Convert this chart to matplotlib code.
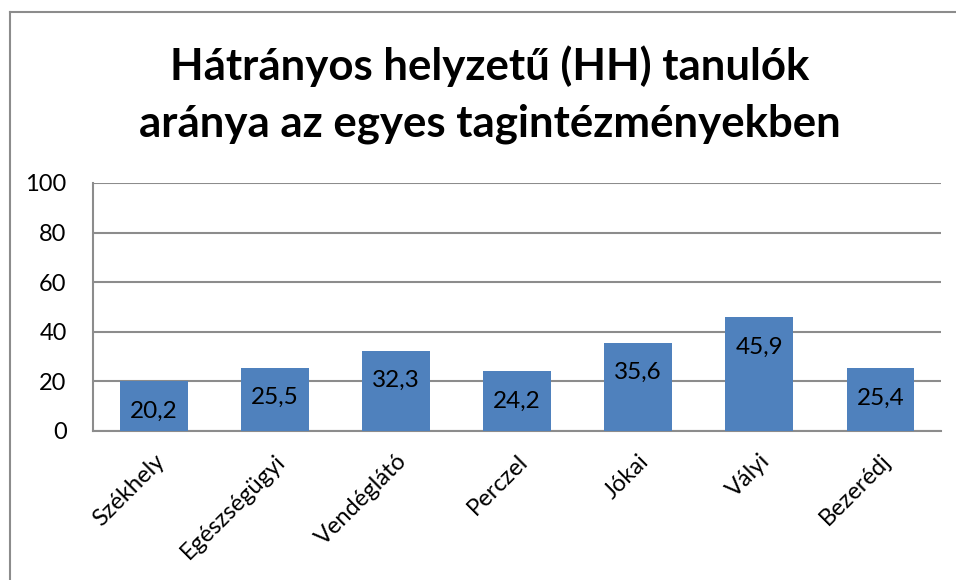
import matplotlib.pyplot as plt
from matplotlib.lines import Line2D

plt.rcParams['font.family'] = ['Lato', 'DejaVu Sans']

# -------------------------------
# Data
# -------------------------------
categories = ["Székhely", "Egészségügyi", "Vendéglátó", "Perczel", "Jókai", "Vályi", "Bezerédj"]
values = [20.2, 25.5, 32.3, 24.2, 35.6, 45.9, 25.4]
yticks = [0, 20, 40, 60, 80, 100]
title = "Hátrányos helyzetű (HH) tanulók\naránya az egyes tagintézményekben"

# -------------------------------
# Figure
# -------------------------------
fig = plt.figure(figsize=(9.56, 5.80), dpi=100)
ax = fig.add_axes([0.0973, 0.2569, 0.887, 0.4276])

x = range(len(categories))
bars = ax.bar(x, values, width=0.56, color="#4F81BD", zorder=3)

for b, v in zip(bars, values):
    ax.annotate(f"{v:.1f}".replace(".", ","),
                xy=(b.get_x() + b.get_width() / 2, b.get_height()),
                xytext=(0, -14), textcoords="offset points",
                ha="center", va="top", fontsize=17.5, color="black", zorder=4)

ax.set_ylim(0, 100)
ax.set_xlim(-0.5, len(categories) - 0.5)
ax.set_yticks(yticks)
ax.set_yticklabels([str(t) for t in yticks], fontsize=17)
ax.set_xticks(list(x))
ax.set_xticklabels(categories, rotation=45, ha="right", rotation_mode="anchor", fontsize=17)
ax.tick_params(axis="y", length=0, pad=19)
ax.tick_params(axis="x", length=0, pad=14)

ax.yaxis.grid(True, color="#8C8C8C", linewidth=1.5, zorder=0)
for s in ["top", "right"]:
    ax.spines[s].set_visible(False)
for s in ["left", "bottom"]:
    ax.spines[s].set_color("#8C8C8C")
    ax.spines[s].set_linewidth(1.5)

fig.text(0.512, 0.836, title, ha="center", va="center", fontsize=31.5,
         fontweight="bold", linespacing=1.5)

# outer chart border (left and top visible)
fig.add_artist(Line2D([9.5 / 956, 9.5 / 956], [0, 1 - 11.5 / 580], color="#8C8C8C", lw=1.5))
fig.add_artist(Line2D([9.5 / 956, 1], [1 - 11.5 / 580, 1 - 11.5 / 580], color="#8C8C8C", lw=1.5))

fig.savefig("out.png", dpi=100)
